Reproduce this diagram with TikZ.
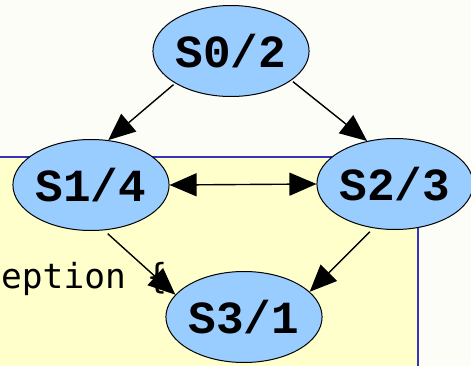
\documentclass[tikz,border=0pt]{standalone}
\usepackage{fontspec}
\newfontfamily\statefont{Liberation Mono}
\newfontfamily\codefont{DejaVu Sans Mono}
\usetikzlibrary{shapes.geometric,arrows.meta}
\definecolor{pagebg}{HTML}{FCFDF7}
\definecolor{codebg}{HTML}{FFFFCC}
\definecolor{codeframe}{HTML}{3434BC}
\definecolor{statefill}{HTML}{99CCFF}
\tikzset{
  state/.style={ellipse, draw=black, line width=1pt, fill=statefill,
    minimum width=152pt, minimum height=91pt, inner sep=0pt,
    font=\statefont\bfseries\fontsize{46}{46}\selectfont},
  head/.style={Triangle[length=27pt,width=23pt]},
  trans/.style={draw=black, line width=1.4pt, shorten <=2pt,
    -{Triangle[length=27pt,width=23pt]}},
  both/.style={draw=black, line width=1.4pt,
    {Triangle[length=27pt,width=23pt]}-{Triangle[length=27pt,width=23pt]}}
}
\begin{document}
\begin{tikzpicture}[x=1pt,y=-1pt]
  \useasboundingbox (0,0) rectangle (471,366);
  \fill[pagebg] (0,0) rectangle (471,366);
  % code panel behind the graph
  \draw[fill=codebg, draw=codeframe, line width=2pt] (-10,157) rectangle (418,380);
  \node[anchor=base west, inner sep=0pt, font=\codefont\fontsize{34.5}{34.5}\selectfont]
    (code) at (1,288) {eption \{};
  % states
  \node[state] (s0) at (231,51) {S0/2};
  \node[state] (s1) at (91,185) {S1/4};
  \node[state] (s2) at (395,184) {S2/3};
  \node[state] (s3) at (244,317) {S3/1};
  % transitions
  \draw[trans] (s0.210) -- (s1.69);
  \draw[trans] (s0.-26) -- (s2.123);
  \draw[both] (s1.east) -- (s2.west);
  \draw[trans, shorten <=5pt] (s1.-74) -- (s3.162);
  \draw[trans, shorten <=5pt] (s2.244) -- (s3.21);
\end{tikzpicture}
\end{document}
